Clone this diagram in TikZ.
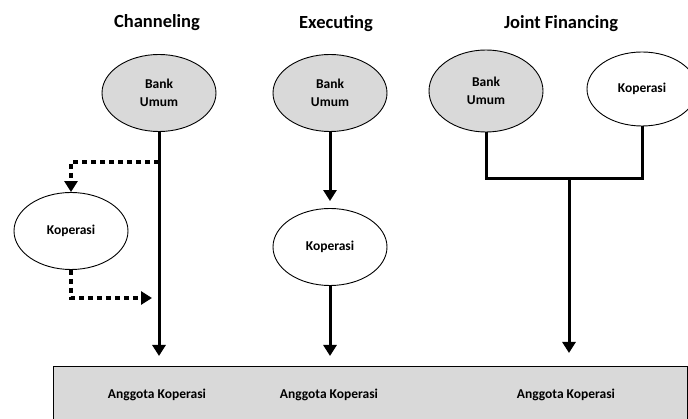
\documentclass[tikz,border=0pt]{standalone}
\usepackage{fontspec}
\setmainfont{Carlito}
\usepackage{tikz}
\usetikzlibrary{shapes.geometric,arrows.meta,positioning,calc}
\definecolor{boxgray}{HTML}{D9D9D9}

\begin{document}
\begin{tikzpicture}[x=1pt,y=1pt,font=\bfseries,
  oval/.style={draw,ellipse,line width=0.9pt,minimum width=114pt,minimum height=77pt,inner sep=0pt,align=center,font=\fontsize{13.5}{18}\selectfont\bfseries},
  bank/.style={oval,fill=boxgray},
  heading/.style={font=\fontsize{18.5}{20}\selectfont\bfseries,anchor=base},
  flow/.style={line width=3pt},
  msg/.style={flow,-{Triangle[length=11pt,width=13pt]}},
  side/.style={line width=3.5pt,dash pattern=on 5pt off 4pt,-{Triangle[length=11pt,width=13pt]}},
]
  \useasboundingbox (0,0) rectangle (688,-419);

  % headings
  \foreach \i/\name/\x/\y in {1/Channeling/157/-28,2/Executing/336/-29,3/{Joint Financing}/561/-29} {
    \node[heading] (t\i) at (\x,\y) {\name};
  }

  % members box
  \node[draw,fill=boxgray,line width=0.9pt,minimum width=634pt,minimum height=60pt,anchor=north west,inner sep=0pt] (box) at (53,-366) {};
  \foreach \i/\x in {1/157,2/329,3/566} {
    \node[font=\fontsize{13.5}{16}\selectfont\bfseries] (a\i) at (\x,-395) {Anggota Koperasi};
  }

  % channeling
  \node[bank] (bu1) at (159,-93) {Bank\\Umum};
  \node[oval] (kop1) at (71,-231) {Koperasi};
  \draw[msg,shorten >=10pt] (bu1) -- (bu1 |- box.north);
  \coordinate (split) at (159,-162);
  \coordinate (back) at (152,-298);
  \draw[side] (split) -| (kop1.north);
  \draw[side] (kop1.south) |- (back);

  % executing
  \node[bank] (bu2) at (330,-93) {Bank\\Umum};
  \node[oval] (kop2) at (330,-247) {Koperasi};
  \draw[msg,shorten >=7pt] (bu2) -- (kop2);
  \draw[msg,shorten >=10pt] (kop2) -- (kop2 |- box.north);

  % joint financing
  \node[bank,minimum height=82pt] (bu3) at (486,-91) {Bank\\Umum};
  \node[oval,minimum width=110pt,minimum height=74pt] (kop3) at (642,-89) {Koperasi};
  \coordinate (jm) at (569,-179);
  \draw[flow] (bu3) |- (jm) -| (kop3);
  \draw[msg,shorten >=13pt] (jm) -- (jm |- box.north);
\end{tikzpicture}
\end{document}
